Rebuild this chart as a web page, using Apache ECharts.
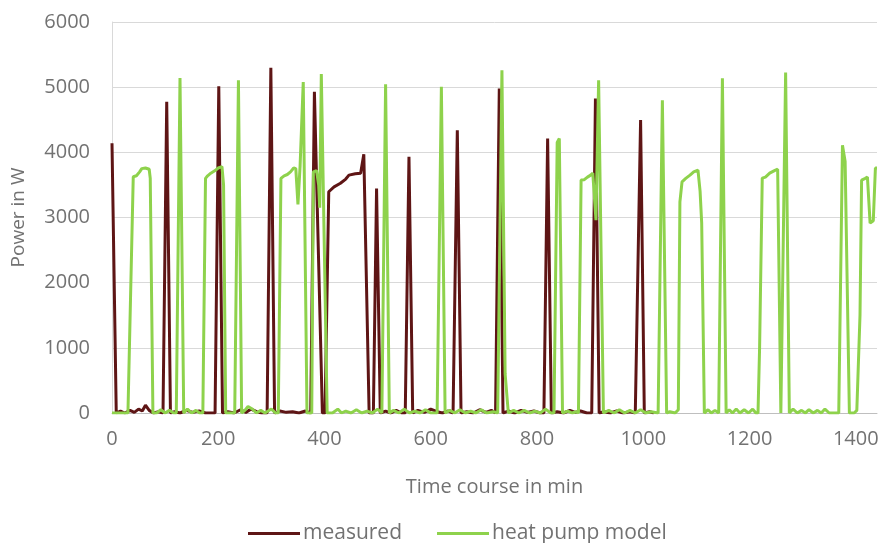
<!DOCTYPE html>
<html>
<head>
<meta charset="utf-8">
<script src="https://cdn.jsdelivr.net/npm/echarts@6/dist/echarts.min.js"></script>
<style>
html,body{margin:0;padding:0;background:#fff;}
#chart{width:882px;height:543px;}
</style>
</head>
<body>
<div id="chart"></div>
<script>
// Time (min) and power (W)
const measuredTime = [0,8,16,24,34,42,50,57,63,70,78,88,96,103,110,118,128,140,152,164,176,186,194,201,208,218,230,242,252,262,272,282,292,299,306,316,328,340,352,364,374,381,396,401,408,418,430,440,446,458,468,474,484,492,498,505,515,525,535,545,552,559,566,576,588,600,612,622,633,642,650,657,668,680,692,704,714,722,729,736,746,758,770,782,794,806,813,820,827,838,850,862,872,882,894,903,910,917,926,938,950,962,975,985,995,1002,1012,1020];
const measuredPower = [4140,0,30,0,40,10,60,30,120,40,0,20,0,4775,0,20,0,40,10,30,0,0,0,5015,0,20,0,50,10,60,20,0,0,5296,0,30,10,20,0,30,0,4930,0,0,3395,3470,3525,3590,3650,3670,3680,3970,0,0,3445,0,30,0,40,0,0,3930,0,40,10,60,20,0,30,0,4340,0,20,0,50,10,40,0,4980,0,30,0,40,10,30,0,0,4213,0,20,0,40,10,30,0,0,4826,0,20,0,30,0,20,0,4494,0,20,0];

const modelTime = [0,10,20,30,40,46,52,56,63,70,72,77,84,92,100,108,116,121,128,135,142,150,158,165,171,176,180,186,194,200,207,210,214,220,231,238,244,250,256,264,272,280,288,300,308,313,318,324,330,336,342,346,350,354,360,367,372,376,379,385,389,391,394,405,415,425,432,440,450,460,470,480,490,500,508,515,522,530,540,550,560,570,580,590,600,612,620,627,636,645,655,665,675,685,695,705,718,726,734,740,746,756,766,776,786,796,806,816,826,832,838,842,848,858,866,874,878,883,889,895,901,905,909,911,916,925,935,945,955,965,975,985,995,1005,1015,1028,1036,1044,1050,1060,1066,1069,1073,1080,1088,1095,1103,1107,1110,1115,1122,1128,1135,1142,1149,1156,1162,1168,1175,1182,1190,1198,1206,1212,1216,1219,1224,1230,1238,1247,1253,1259,1268,1275,1282,1290,1298,1305,1312,1320,1328,1335,1342,1350,1358,1368,1375,1380,1388,1397,1402,1408,1411,1418,1422,1427,1433,1437,1440];
const modelPower = [0,0,0,0,3625,3640,3700,3750,3760,3740,3600,0,0,50,0,40,0,0,5140,0,60,0,40,0,0,3600,3640,3680,3720,3760,3780,3500,0,0,0,5107,0,40,100,60,0,40,0,60,0,0,3600,3640,3660,3700,3760,3750,3200,3780,5080,0,0,0,3700,3720,3500,3150,5200,0,0,60,0,30,0,50,0,30,0,60,0,5045,0,40,0,60,0,30,0,50,0,0,5005,0,40,0,50,0,30,0,50,0,20,0,5260,600,0,40,0,40,0,30,0,60,0,0,4150,4213,0,30,0,20,0,3575,3580,3620,3650,3680,3200,2960,5107,0,40,0,50,0,40,0,50,0,20,0,4800,0,20,0,50,3240,3548,3600,3650,3700,3727,3400,2914,0,50,0,40,0,5138,0,50,0,60,0,50,0,60,0,0,1000,3604,3620,3680,3720,3742,0,5225,0,60,0,40,0,50,0,40,0,60,0,0,0,4110,3860,0,0,40,1500,3573,3600,3620,2914,2950,3760,3760];

const xTicks = [0,200,400,600,800,1000,1200,1400];
const yTicks = [0,1000,2000,3000,4000,5000,6000];

const zip = (a,b) => a.map((v,i)=>[v,b[i]]);
const font = 'Open Sans';
const txt = '#727272';

const chart = echarts.init(document.getElementById('chart'), null, {renderer:'canvas'});
chart.setOption({
  animation:false,
  textStyle:{fontFamily:font},
  grid:{left:112,right:5,top:22,bottom:130,containLabel:false,outerBoundsMode:'none'},
  xAxis:{
    type:'value', min:0, max:1440, interval:200,
    name:'Time course in min', nameLocation:'middle', nameGap:64,
    nameTextStyle:{fontFamily:font,fontSize:20,color:txt},
    axisLine:{lineStyle:{color:'#bfbfbf',width:1}},
    axisTick:{show:false},
    splitLine:{show:false},
    axisLabel:{color:txt,fontSize:20,fontFamily:font,margin:16,showMaxLabel:false,
      formatter:v=>xTicks.includes(v)?String(v):''}
  },
  yAxis:{
    type:'value', min:0, max:6000, interval:1000,
    name:'Power in W', nameLocation:'middle', nameGap:84, nameRotate:90,
    nameTextStyle:{fontFamily:font,fontSize:19,color:txt},
    axisLine:{show:true,lineStyle:{color:'#d9d9d9',width:1}},
    axisTick:{show:false},
    splitLine:{lineStyle:{color:'#d9d9d9',width:1}},
    axisLabel:{color:txt,fontSize:20,fontFamily:font,margin:22,
      formatter:v=>yTicks.includes(v)?String(v):''}
  },
  legend:{
    top:518, left:243, itemGap:35, itemWidth:52, itemHeight:3,
    icon:'rect',
    textStyle:{fontFamily:font,fontSize:21,color:txt,padding:[0,0,0,-2]},
    data:['measured','heat pump model']
  },
  series:[
    {name:'measured',type:'line',data:zip(measuredTime,measuredPower),showSymbol:false,symbol:'none',
     lineStyle:{color:'#5e1515',width:3},itemStyle:{color:'#5e1515'}},
    {name:'heat pump model',type:'line',data:zip(modelTime,modelPower),showSymbol:false,symbol:'none',
     lineStyle:{color:'#8ed24c',width:3},itemStyle:{color:'#8ed24c'}}
  ]
});
</script>
</body>
</html>
